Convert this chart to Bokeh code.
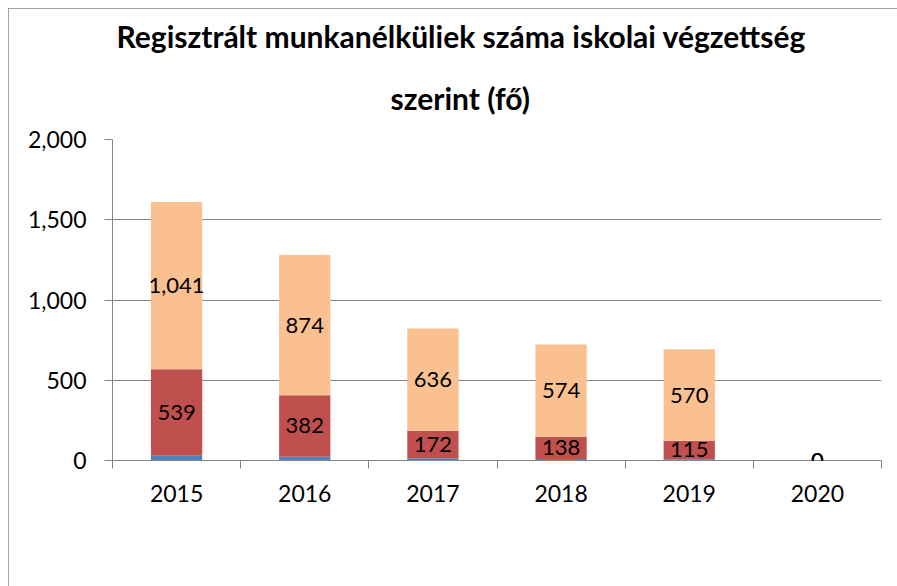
from bokeh.plotting import figure
from bokeh.models import (ColumnDataSource, Range1d, FixedTicker, NumeralTickFormatter,
                          Legend, LegendItem, LabelSet, Title)
from bokeh.core.properties import value
from bokeh.embed import file_html
from bokeh.resources import INLINE

years = ["2015", "2016", "2017", "2018", "2019", "2020"]
below8 = [30, 24, 14, 10, 8, 0]          # 8 általánosnál alacsonyabb
eq8 = [539, 382, 172, 138, 115, 0]       # 8 általános
above8 = [1041, 874, 636, 574, 570, 0]   # 8 általánosnál magasabb
series_names = ["8 általánosnál alacsonyabb", "8 általános", "8 általánosnál magasabb"]
colors = ["#4F81BD", "#C0504D", "#FAC090"]
y_ticks = [0, 500, 1000, 1500, 2000]
title_lines = ["Regisztrált munkanélküliek száma iskolai végzettség", "szerint (fő)"]

FONT = "Lato"
GRAY = "#868686"

xpos = [i + 0.5 for i in range(len(years))]
src = ColumnDataSource(dict(x=xpos, a=below8, b=eq8, c=above8))

p = figure(frame_width=769, frame_height=321, output_backend="svg", toolbar_location=None,
           x_range=Range1d(0, len(years)), y_range=Range1d(0, 2000),
           min_border_left=104, min_border_right=16, min_border_top=131,
           min_border_bottom=126)
p.styles = {"margin-left": "8px", "margin-top": "8px",
            "outline": "1px solid #868686", "outline-offset": "-1px"}
p.outline_line_color = None
p.background_fill_color = "white"
p.border_fill_color = "white"

renderers = p.vbar_stack(["a", "b", "c"], x="x", width=0.4, color=colors,
                         line_color=None, source=src)

# data labels
mid_b = [a + b / 2 for a, b in zip(below8, eq8)]
mid_c = [a + b + c / 2 for a, b, c in zip(below8, eq8, above8)]
lab_src = ColumnDataSource(dict(
    x=xpos + xpos,
    y=mid_b + mid_c,
    t=[f"{v:,}" for v in eq8] + [f"{v:,}" for v in above8]))
labels = LabelSet(x="x", y="y", text="t", source=lab_src, text_align="center",
                  text_baseline="middle", text_font=value(FONT), text_font_size=value("22px"),
                  text_color="black")
p.add_layout(labels)

# title (two lines; p.title is the outer one)
p.title.text = title_lines[0]
p.title.align = "left"
p.title.text_font = FONT
p.title.text_font_style = "bold"
p.title.text_font_size = "30px"
p.title.text_color = "black"
p.title.offset = 4
p.title.standoff = 0
t2 = Title(text=title_lines[1], align="left", text_font=FONT, text_font_style="bold",
           text_font_size="30px", text_color="black", offset=278, standoff=48)
p.add_layout(t2, "above")

# axes
p.xaxis.ticker = FixedTicker(ticks=xpos, minor_ticks=list(range(len(years) + 1)))
p.xaxis.major_label_overrides = {x: y for x, y in zip(xpos, years)}
p.xaxis.major_tick_out = 0
p.xaxis.major_tick_in = 0
p.xaxis.minor_tick_line_color = GRAY
p.xaxis.minor_tick_out = 8
p.xaxis.minor_tick_in = 0
p.xaxis.major_label_standoff = 16
p.yaxis.ticker = FixedTicker(ticks=y_ticks)
p.yaxis.formatter = NumeralTickFormatter(format="0,0")
p.yaxis.major_tick_out = 8
p.yaxis.major_tick_in = 0
p.yaxis.minor_tick_line_color = None
p.yaxis.major_label_standoff = 18
for ax in (p.xaxis, p.yaxis):
    ax.axis_line_color = GRAY
    ax.major_label_text_font = FONT
    ax.major_label_text_font_size = "23px"
    ax.major_label_text_color = "black"
p.xaxis.major_tick_line_color = None
p.yaxis.major_tick_line_color = GRAY

p.xgrid.grid_line_color = None
p.ygrid.ticker = FixedTicker(ticks=y_ticks)
p.ygrid.grid_line_color = GRAY

legend = Legend(items=[LegendItem(label=n, renderers=[r]) for n, r in zip(series_names, renderers)],
                orientation="horizontal", location="top_center")
legend.padding = 0
legend.margin = 22
legend.border_line_color = None
legend.background_fill_alpha = 0
legend.glyph_width = 13
legend.glyph_height = 13
legend.label_standoff = 6
legend.spacing = 26
legend.label_text_font = FONT
legend.label_text_font_size = "25px"
legend.label_text_color = "black"
p.add_layout(legend, "below")

open("out.html", "w").write(file_html(p, INLINE))
